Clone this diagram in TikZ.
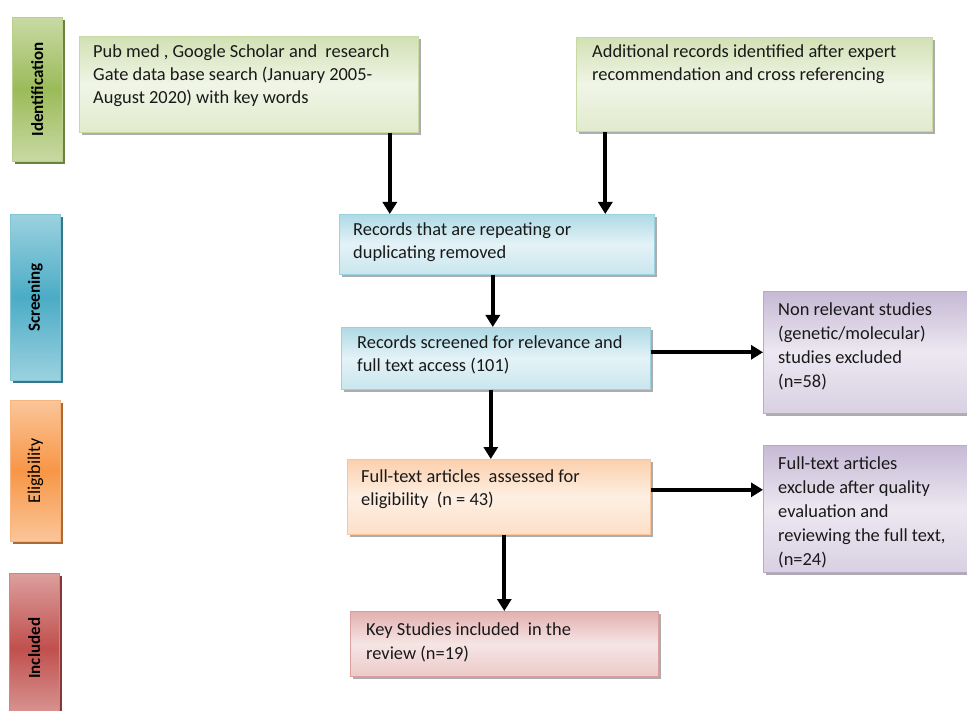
\documentclass[tikz,border=0pt]{standalone}
\usepackage{fontspec}
\usepackage{graphicx}
\setmainfont{Carlito}
\usetikzlibrary{arrows.meta,shadows}

\definecolor{idgreen}{HTML}{9BBB59}
\definecolor{scblue}{HTML}{4BACC6}
\definecolor{elorange}{HTML}{F79646}
\definecolor{inred}{HTML}{C0504D}
\definecolor{boxpurple}{HTML}{8064A2}

\tikzset{
  stage/.style={draw=#1!70, line width=0.6pt, anchor=north west, inner sep=0pt,
    minimum width=50pt, top color=#1!55, bottom color=#1!55, middle color=#1,
    drop shadow={shadow xshift=3pt, shadow yshift=-3pt, fill=#1!70!black, opacity=1},
    font=\fontsize{17}{19}\selectfont\bfseries},
  flowbox/.style={draw=#1!55, line width=0.6pt, anchor=north west, inner sep=0pt,
    top color=#1!45, bottom color=#1!30, middle color=#1!15,
    drop shadow={shadow xshift=2.5pt, shadow yshift=-2.5pt, fill=black!40, opacity=0.8}},
  boxtext/.style={anchor=north west, inner sep=0pt, align=left, text=black!90,
    font=\fontsize{18.4}{23}\selectfont},
  flow/.style={line width=3.8pt, -{Triangle[length=12pt,width=14pt]}},
}

\begin{document}
\begin{tikzpicture}[x=1pt, y=-1pt]
  \useasboundingbox (0,0) rectangle (967,711);

  % stage labels on the left
  \node[stage=idgreen, minimum height=144pt] (ident) at (12,17) {\rotatebox{90}{Identification}};
  \node[stage=scblue, minimum height=166pt] (screen) at (10,214) {\rotatebox{90}{Screening}};
  \node[stage=elorange, minimum height=141pt, font=\fontsize{18}{20}\selectfont] (elig) at (10,400) {\rotatebox{90}{Eligibility}};
  \node[stage=inred, minimum height=150pt] (incl) at (9,573) {\rotatebox{90}{Included}};

  % boxes
  \node[flowbox=idgreen, minimum width=339pt, minimum height=96pt] (search) at (79,36) {};
  \node[boxtext] (searchtxt) at (93,45) {Pub med , Google Scholar and~ research\\Gate data base search (January 2005-\\August 2020) with key words};

  \node[flowbox=idgreen, minimum width=356pt, minimum height=94pt] (extra) at (576,37) {};
  \node[boxtext] (extratxt) at (592,45) {Additional records identified after expert\\recommendation and cross referencing};

  \node[flowbox=scblue, minimum width=315pt, minimum height=60pt] (dup) at (339,214) {};
  \node[boxtext] (duptxt) at (353,223) {Records that are repeating or\\duplicating removed};

  \node[flowbox=scblue, minimum width=309pt, minimum height=62pt] (screened) at (341,327) {};
  \node[boxtext] (screenedtxt) at (357,336) {Records screened for relevance and\\full text access (101)};

  \node[flowbox=boxpurple, minimum width=210pt, minimum height=122pt] (nonrel) at (763,291) {};
  \node[boxtext, font=\fontsize{18.4}{24}\selectfont] (nonreltxt) at (778,303) {Non relevant studies\\(genetic/molecular)\\studies excluded\\(n=58)};

  \node[flowbox=elorange, minimum width=303pt, minimum height=75pt] (fulltext) at (347,459) {};
  \node[boxtext] (fulltexttxt) at (361,470) {Full-text articles~ assessed for\\eligibility~ (n = 43)};

  \node[flowbox=boxpurple, minimum width=210pt, minimum height=127pt] (quality) at (763,445) {};
  \node[boxtext, font=\fontsize{18.4}{24}\selectfont] (qualitytxt) at (778,457) {Full-text articles\\exclude after quality\\evaluation and\\reviewing the full text,\\(n=24)};

  \node[flowbox=inred, minimum width=308pt, minimum height=65pt] (key) at (350,611) {};
  \node[boxtext, font=\fontsize{18.4}{24}\selectfont] (keytxt) at (366,623) {Key Studies included~ in the\\review (n=19)};

  % arrows
  \draw[flow] ([xshift=141pt]search.south) -- ([xshift=141pt]search.south |- dup.north);
  \draw[flow] ([xshift=-149pt]extra.south) -- ([xshift=-149pt]extra.south |- dup.north);
  \draw[flow] ([xshift=-4pt]dup.south) -- ([xshift=-4pt]dup.south |- screened.north);
  \draw[flow] ([xshift=-5pt]screened.south) -- ([xshift=-5pt]screened.south |- fulltext.north);
  \draw[flow] (key.north |- fulltext.south) -- (key.north);
  \draw[flow] ([yshift=6pt]screened.east) -- ([yshift=6pt]screened.east -| nonrel.west);
  \draw[flow] ([yshift=7pt]fulltext.east) -- ([yshift=7pt]fulltext.east -| quality.west);
\end{tikzpicture}
\end{document}
